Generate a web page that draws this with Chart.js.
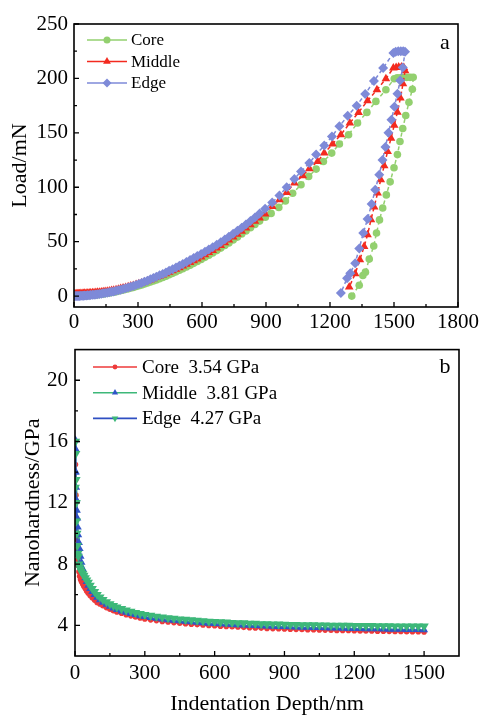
<!DOCTYPE html>
<html>
<head>
<meta charset="utf-8">
<script src="https://cdn.jsdelivr.net/npm/chart.js"></script>
<style>
  html, body { margin: 0; padding: 0; background: #fff; overflow: hidden; }
  #wrap { position: relative; width: 482px; height: 715px; }
  canvas { position: absolute; left: 0; }
  #loadChart { top: 0; }
  #hardChart { top: 330px; }
</style>
</head>
<body>
<div id="wrap">
  <canvas id="loadChart" width="482" height="340"></canvas>
  <canvas id="hardChart" width="482" height="385"></canvas>
</div>
<script>
// ---- (a) load vs. indentation depth (nm, mN): loading, hold, unloading ----
// the loading branch is sampled densely at small depths
const LOAD_GRID = [
  0, 5, 10, 15, 20, 26, 32, 38, 44, 50,
  57, 64, 71, 78, 86, 94, 102, 110, 119, 128,
  137, 146, 156, 166, 176, 186, 197, 208, 219, 230,
  242, 254, 266, 278, 291, 304, 317, 330, 344, 358,
  372, 386, 401, 416, 431, 446, 462, 478, 494, 510,
  527, 544, 561, 578, 596, 614, 632, 650, 669, 688,
  707, 726, 746, 766, 786, 806, 827, 848, 870
];

const CORE_DEPTH = LOAD_GRID.concat([
  897, 924, 960, 991, 1025, 1064, 1100, 1135, 1169, 1208,
  1244, 1287, 1329, 1373, 1415, 1462, 1501,
  1515, 1530, 1545, 1560, 1575, 1590,
  1586, 1570, 1555, 1541, 1528, 1516, 1500, 1482, 1464, 1447,
  1432, 1418, 1405, 1384, 1366, 1354, 1337, 1302
]);
const CORE_LOAD = [
  0, 0.02, 0.05, 0.08, 0.12, 0.16, 0.2, 0.25, 0.3, 0.36,
  0.44, 0.52, 0.62, 0.72, 0.85, 1.0, 1.15, 1.35, 1.55, 1.8,
  2.05, 2.3, 2.6, 2.95, 3.3, 3.65, 4.1, 4.6, 5.1, 5.6,
  6.2, 6.8, 7.4, 8.0, 8.8, 9.5, 10.3, 11.1, 12.0, 13.0,
  13.9, 14.9, 16.0, 17.1, 18.3, 19.6, 20.9, 22.3, 23.7, 25.1,
  26.7, 28.4, 30.1, 31.8, 33.7, 35.6, 37.6, 39.6, 41.8, 44.1,
  46.5, 48.9, 51.5, 54.2, 57.0, 59.8, 62.8, 65.8, 68.9,
  72.5, 76.0, 81.5, 87.5, 94.5, 102.3, 110.0, 116.7, 123.7, 131.4,
  139.7, 148.3, 159.0, 168.8, 178.9, 189.6, 199.7,
  200.5, 200.5, 201, 201, 201, 201,
  190, 178, 166, 154, 142, 130, 118, 105, 93, 81,
  70, 58, 46, 34, 22, 19, 10, 0
];

const MIDDLE_DEPTH = LOAD_GRID.concat([
  896, 929, 963, 997, 1033, 1072, 1103, 1142, 1173, 1212,
  1251, 1293, 1334, 1376, 1420, 1462, 1497,
  1510, 1522, 1535, 1546,
  1552, 1542, 1530, 1516, 1501, 1486, 1470, 1454, 1438, 1423,
  1407, 1392, 1376, 1360, 1340, 1318, 1290
]);
const MIDDLE_LOAD = [
  2.0, 2.05, 2.1, 2.15, 2.2, 2.25, 2.3, 2.38, 2.45, 2.52,
  2.6, 2.7, 2.8, 2.9, 3.0, 3.15, 3.3, 3.45, 3.6, 3.8,
  4.0, 4.25, 4.5, 4.8, 5.15, 5.5, 5.9, 6.4, 6.9, 7.4,
  8.0, 8.6, 9.2, 9.8, 10.6, 11.3, 12.1, 12.9, 13.9, 14.9,
  16.0, 17.0, 18.2, 19.4, 20.6, 21.9, 23.3, 24.7, 26.1, 27.6,
  29.2, 30.8, 32.5, 34.2, 36.0, 38.0, 40.0, 42.0, 44.3, 46.6,
  49.0, 51.6, 54.2, 56.9, 59.7, 62.6, 65.6, 68.7, 71.8,
  75.4, 82.4, 88.5, 95.2, 103.9, 110.6, 117.0, 123.7, 131.4, 139.7,
  148.3, 159.0, 168.8, 179.5, 189.6, 199.7, 209.5,
  210, 210.5, 210.5, 210,
  207, 195, 182, 169, 157, 145, 132.9, 119.8, 106.9, 94.7,
  81.8, 70.1, 56.3, 45.6, 33.4, 20.5, 8.3
];

const EDGE_DEPTH = LOAD_GRID.concat([
  896, 929, 963, 997, 1033, 1064, 1103, 1135, 1173, 1209,
  1244, 1283, 1325, 1365, 1406, 1449, 1497,
  1508, 1520, 1532, 1543, 1552,
  1541, 1529, 1516, 1502, 1488, 1474, 1460, 1446, 1431, 1412,
  1395, 1376, 1356, 1337, 1318, 1295, 1280, 1251
]);
const EDGE_LOAD = [
  0, 0.03, 0.07, 0.1, 0.15, 0.2, 0.27, 0.33, 0.42, 0.5,
  0.62, 0.75, 0.87, 0.98, 1.15, 1.35, 1.55, 1.75, 1.98, 2.25,
  2.55, 2.85, 3.2, 3.55, 3.95, 4.35, 4.85, 5.35, 5.9, 6.45,
  7.2, 7.9, 8.6, 9.4, 10.3, 11.2, 12.1, 13.1, 14.2, 15.4,
  16.6, 17.8, 19.1, 20.4, 21.8, 23.2, 24.7, 26.3, 27.9, 29.5,
  31.3, 33.2, 35.0, 36.9, 38.8, 40.8, 42.8, 44.9, 47.2, 49.6,
  52.0, 54.5, 57.2, 60.0, 62.9, 65.8, 69.0, 72.3, 75.8,
  80.2, 86.0, 92.5, 100.0, 107.5, 114.5, 122.2, 130.0, 138.4, 146.7,
  156.0, 165.7, 175.0, 185.6, 197.6, 209.5, 223.3,
  224.5, 225, 225, 225, 224.5,
  210, 198, 186, 174, 162, 150, 137, 125, 111.5, 97.7,
  84.6, 70.8, 57.9, 43.8, 30.3, 21.1, 16.5, 2.8
];

// ---- (b) nanohardness (GPa) vs. indentation depth (nm) ----
const DEPTH_B = [
  1, 2, 3, 4, 5, 6, 8, 10, 12, 14,
  17, 20, 24, 28, 33, 38, 44, 50, 57, 65,
  74, 84, 95, 107, 120, 135, 150, 165, 180, 200,
  220, 240, 260, 280, 300, 325, 350, 375, 400, 425,
  450, 475, 500, 525, 550, 575, 600, 625, 650, 675,
  700, 725, 750, 775, 800, 825, 850, 875, 900, 925,
  950, 975, 1000, 1025, 1050, 1075, 1100, 1125, 1150, 1175,
  1200, 1225, 1250, 1275, 1300, 1325, 1350, 1375, 1400, 1425,
  1450, 1475, 1500
];
const CORE_H = [
  13.0, 14.5, 13.5, 12.5, 11.0, 10.0, 9.6, 8.9, 8.3, 7.9,
  7.5, 7.2, 7.0, 6.85, 6.7, 6.55, 6.4, 6.25, 6.1, 5.95,
  5.8, 5.65, 5.5, 5.4, 5.28, 5.16, 5.05, 4.96, 4.88, 4.79,
  4.70, 4.62, 4.55, 4.48, 4.42, 4.36, 4.31, 4.26, 4.22, 4.18,
  4.14, 4.11, 4.08, 4.05, 4.02, 3.99, 3.97, 3.95, 3.93, 3.91,
  3.89, 3.87, 3.85, 3.83, 3.82, 3.80, 3.79, 3.78, 3.77, 3.75,
  3.74, 3.73, 3.72, 3.71, 3.70, 3.69, 3.68, 3.67, 3.67, 3.66,
  3.65, 3.64, 3.64, 3.63, 3.62, 3.62, 3.61, 3.60, 3.60, 3.59,
  3.58, 3.58, 3.57
];
const MIDDLE_H = [
  14.0, 16.1, 15.5, 14.0, 13.0, 12.2, 11.5, 11.0, 10.4, 9.9,
  9.4, 9.0, 8.5, 8.1, 7.7, 7.4, 7.1, 6.85, 6.6, 6.4,
  6.2, 6.0, 5.82, 5.66, 5.5, 5.36, 5.23, 5.12, 5.03, 4.93,
  4.84, 4.76, 4.69, 4.62, 4.56, 4.50, 4.45, 4.40, 4.36, 4.32,
  4.28, 4.25, 4.22, 4.19, 4.16, 4.13, 4.11, 4.09, 4.07, 4.05,
  4.03, 4.01, 3.99, 3.98, 3.96, 3.95, 3.93, 3.92, 3.91, 3.89,
  3.88, 3.87, 3.86, 3.85, 3.84, 3.83, 3.82, 3.81, 3.80, 3.79,
  3.79, 3.78, 3.77, 3.76, 3.76, 3.75, 3.74, 3.74, 3.73, 3.72,
  3.72, 3.71, 3.70
];
const EDGE_H = [
  13.0, 16.0, 15.2, 13.5, 12.0, 10.8, 10.0, 9.2, 8.7, 8.5,
  8.0, 7.8, 7.65, 7.5, 7.38, 7.25, 7.1, 6.95, 6.8, 6.6,
  6.4, 6.2, 6.0, 5.84, 5.68, 5.53, 5.4, 5.29, 5.19, 5.08,
  4.99, 4.91, 4.83, 4.76, 4.70, 4.64, 4.58, 4.53, 4.49, 4.45,
  4.41, 4.38, 4.35, 4.32, 4.29, 4.26, 4.24, 4.22, 4.20, 4.18,
  4.16, 4.15, 4.13, 4.12, 4.10, 4.09, 4.08, 4.07, 4.06, 4.05,
  4.04, 4.03, 4.03, 4.02, 4.01, 4.01, 4.00, 4.00, 3.99, 3.99,
  3.98, 3.98, 3.97, 3.97, 3.96, 3.96, 3.96, 3.95, 3.95, 3.95,
  3.94, 3.94, 3.94
];
const SERIES = ['Core', 'Middle', 'Edge'];
const MEAN_H = [3.54, 3.81, 4.27];

// axis ticks
const LOAD_X_TICKS = [0, 300, 600, 900, 1200, 1500, 1800];
const LOAD_X_MINOR = [150, 450, 750, 1050, 1350, 1650];
const LOAD_Y_TICKS = [0, 50, 100, 150, 200, 250];
const LOAD_Y_MINOR = [25, 75, 125, 175, 225];
const HARD_X_TICKS = [0, 300, 600, 900, 1200, 1500];
const HARD_X_MINOR = [150, 450, 750, 1050, 1350];
const HARD_Y_TICKS = [4, 8, 12, 16, 20];
const HARD_Y_MINOR = [6, 10, 14, 18];

const FONT = '"Liberation Serif", "Times New Roman", serif';
Chart.defaults.font.family = FONT;
Chart.defaults.color = '#000';

const pts = (xs, ys) => xs.map((x, i) => ({ x, y: ys[i] }));

function drawMarker(ctx, style, x, y, r, rot) {
  if (Chart.helpers && Chart.helpers.drawPoint) {
    Chart.helpers.drawPoint(ctx, { pointStyle: style, radius: r, rotation: rot || 0, borderWidth: 0 }, x, y);
    return;
  }
  ctx.beginPath();
  ctx.arc(x, y, r, 0, Math.PI * 2);
  ctx.fill();
}

// box around the plot, inward tick marks and the panel letter
const framePlugin = {
  id: 'frame',
  afterDatasetsDraw(chart, args, o) {
    const { ctx, chartArea: a, scales } = chart;
    const sx = scales.x, sy = scales.y;
    ctx.save();
    ctx.strokeStyle = '#000';
    ctx.lineWidth = 1.6;
    ctx.strokeRect(a.left, a.top, a.right - a.left, a.bottom - a.top);
    ctx.lineWidth = 1.3;
    ctx.beginPath();
    const xt = (v, len) => { const p = sx.getPixelForValue(v); ctx.moveTo(p, a.bottom); ctx.lineTo(p, a.bottom - len); };
    const yt = (v, len) => { const p = sy.getPixelForValue(v); ctx.moveTo(a.left, p); ctx.lineTo(a.left + len, p); };
    o.xMajor.forEach(v => xt(v, 5));
    o.xMinor.forEach(v => xt(v, 3));
    o.yMajor.forEach(v => yt(v, 5));
    o.yMinor.forEach(v => yt(v, 3));
    ctx.stroke();
    ctx.fillStyle = '#000';
    ctx.font = '22px ' + FONT;
    ctx.textAlign = 'center';
    ctx.textBaseline = 'alphabetic';
    ctx.fillText(o.letter, o.letterX, o.letterY);
    ctx.restore();
  }
};

// line + marker legend, one row per dataset
const rowLegend = {
  id: 'rowLegend',
  afterDraw(chart, args, o) {
    const { ctx } = chart;
    ctx.save();
    ctx.font = o.size + 'px ' + FONT;
    ctx.textBaseline = 'middle';
    ctx.textAlign = 'left';
    chart.data.datasets.forEach((ds, i) => {
      const y = o.y + i * o.dy;
      ctx.strokeStyle = ds.borderColor;
      ctx.lineWidth = 1.6;
      ctx.setLineDash([]);
      ctx.beginPath();
      ctx.moveTo(o.x, y);
      ctx.lineTo(o.x + o.len, y);
      ctx.stroke();
      ctx.fillStyle = ds.pointBackgroundColor;
      drawMarker(ctx, ds.pointStyle, o.x + o.len / 2, y, o.marker[i], ds.pointRotation);
      ctx.fillStyle = '#000';
      ctx.fillText(o.labels[i], o.x + o.len + o.gap, y + 1);
    });
    ctx.restore();
  }
};

function linAxis(min, max, ticks, pad, size, title) {
  return {
    type: 'linear',
    min, max,
    grid: { display: false, drawTicks: false },
    border: { display: false },
    ticks: {
      padding: pad,
      autoSkip: false,
      maxRotation: 0,
      font: { size: 21 },
      color: '#000',
      callback: v => String(v)
    },
    title: title,
    afterBuildTicks: s => { s.ticks = ticks.map(v => ({ value: v })); },
    afterFit: s => { if (s.isHorizontal()) s.height = size; else s.width = size; }
  };
}

function baseOptions(layoutPad, scales, plugins) {
  return {
    responsive: false,
    animation: false,
    events: [],
    layout: { padding: layoutPad },
    scales,
    plugins: Object.assign({ legend: { display: false }, tooltip: { enabled: false } }, plugins)
  };
}

// (a) Load / depth
const LOAD_COLORS = ['#93d06f', '#f32a1f', '#7e8ad8'];
const LOAD_STYLES = [
  { pointStyle: 'circle', pointRadius: 3.8 },
  { pointStyle: 'triangle', pointRadius: 5 },
  { pointStyle: 'rectRot', pointRadius: 5 }
];
const loadSets = [pts(CORE_DEPTH, CORE_LOAD), pts(MIDDLE_DEPTH, MIDDLE_LOAD), pts(EDGE_DEPTH, EDGE_LOAD)];

new Chart(document.getElementById('loadChart'), {
  type: 'scatter',
  data: {
    datasets: SERIES.map((name, i) => Object.assign({
      label: name,
      data: loadSets[i],
      showLine: true,
      borderColor: LOAD_COLORS[i],
      borderWidth: 1.5,
      borderDash: [4, 3],
      pointBackgroundColor: LOAD_COLORS[i],
      pointBorderWidth: 0,
      pointRotation: 0,
      order: 2 - i
    }, LOAD_STYLES[i]))
  },
  options: baseOptions(
    { top: 24, right: 23, left: 0, bottom: 0 },
    {
      x: linAxis(0, 1800, LOAD_X_TICKS, 3, 33, { display: false }),
      y: linAxis(-10, 250, LOAD_Y_TICKS, 6, 74, {
        display: true, text: 'Load/mN', font: { size: 22, lineHeight: 1 }, padding: { top: 9, bottom: 0 }
      })
    },
    {
      frame: {
        xMajor: LOAD_X_TICKS, xMinor: LOAD_X_MINOR, yMajor: LOAD_Y_TICKS, yMinor: LOAD_Y_MINOR,
        letter: 'a', letterX: 445, letterY: 49
      },
      rowLegend: { x: 87, y: 40, dy: 21.5, len: 40, gap: 4, size: 17, labels: SERIES, marker: [3.5, 4.5, 4.5] }
    }
  ),
  plugins: [framePlugin, rowLegend]
});

// (b) Nanohardness / depth
const LINE_B = ['#ee3a3a', '#3db879', '#2f4fc2'];
const MARK_B = ['#ee3a3a', '#2f55c8', '#3db879'];
const STYLE_B = [
  { pointStyle: 'circle', pointRadius: 2.8, pointRotation: 0 },
  { pointStyle: 'triangle', pointRadius: 4.6, pointRotation: 0 },
  { pointStyle: 'triangle', pointRadius: 5.4, pointRotation: 180 }
];
const hardSets = [CORE_H, MIDDLE_H, EDGE_H].map(h => pts(DEPTH_B, h));

new Chart(document.getElementById('hardChart'), {
  type: 'scatter',
  data: {
    datasets: SERIES.map((name, i) => Object.assign({
      label: name,
      data: hardSets[i],
      showLine: true,
      borderColor: LINE_B[i],
      borderWidth: 1.6,
      pointBackgroundColor: MARK_B[i],
      pointBorderWidth: 0,
      order: 2 - i
    }, STYLE_B[i]))
  },
  options: baseOptions(
    { top: 17, right: 23, left: 0, bottom: 0 },
    {
      x: linAxis(0, 1650, HARD_X_TICKS, 5, 59, {
        display: true, text: 'Indentation Depth/nm', font: { size: 22, lineHeight: 1 }, padding: { top: 0, bottom: 0 }
      }),
      y: linAxis(2, 22, HARD_Y_TICKS, 7, 75, {
        display: true, text: 'Nanohardness/GPa', font: { size: 22, lineHeight: 1 }, padding: { top: 22, bottom: 0 }
      })
    },
    {
      frame: {
        xMajor: HARD_X_TICKS, xMinor: HARD_X_MINOR, yMajor: HARD_Y_TICKS, yMinor: HARD_Y_MINOR,
        letter: 'b', letterX: 445, letterY: 43
      },
      rowLegend: {
        x: 93, y: 37, dy: 25.7, len: 44, gap: 5, size: 19, marker: [2.4, 3.6, 3.8],
        labels: SERIES.map((n, i) => n + '  ' + MEAN_H[i].toFixed(2) + ' GPa')
      }
    }
  ),
  plugins: [framePlugin, rowLegend]
});
</script>
</body>
</html>
